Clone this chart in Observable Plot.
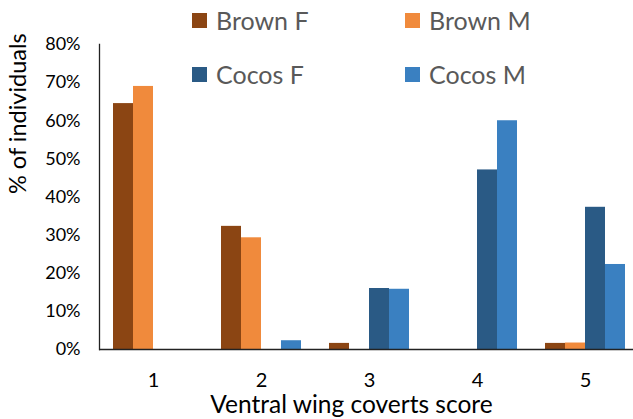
<!DOCTYPE html>
<html>
<head>
<meta charset="utf-8">
<script src="https://cdn.jsdelivr.net/npm/d3@7"></script>
<script src="https://cdn.jsdelivr.net/npm/@observablehq/plot@0.6"></script>
<style>
  html, body { margin: 0; padding: 0; background: white; }
  #wrap { position: relative; width: 633px; height: 419px; overflow: hidden; }
  #legend { position: absolute; left: 192px; top: -7px; }
  .lg-swatches { display: grid !important; grid-template-columns: 213px 150px; grid-auto-rows: 54px; align-items: center; font-family: Lato, sans-serif !important; font-size: 25px !important; color: #595959 !important; margin: 0 !important; min-height: 0 !important; }
  .lg-swatch { margin: 0 !important; display: flex !important; align-items: center; white-space: nowrap; }
  .lg-swatch > svg { margin-right: 9px !important; }
</style>
</head>
<body>
<div id="wrap"><div id="chart"></div><div id="legend"></div></div>
<script>
const scores = ["1", "2", "3", "4", "5"];
const series = ["Brown F", "Brown M", "Cocos F", "Cocos M"];
const brownF = [64.5, 32.3, 1.6, 0, 1.6];
const brownM = [69.0, 29.3, 0, 0, 1.7];
const cocosF = [0, 0, 16.0, 47.1, 37.3];
const cocosM = [0, 2.3, 15.8, 60.0, 22.3];
const colors = ["#8B4513", "#F08A3C", "#2A5A85", "#3A80C1"];
const yTicks = [0, 10, 20, 30, 40, 50, 60, 70, 80];
const xTitle = "Ventral wing coverts score";
const yTitle = "% of individuals";

const values = [brownF, brownM, cocosF, cocosM];
const rows = series.flatMap((s, i) => scores.map((c, j) => ({series: s, score: c, value: values[i][j]})));

const bandW = 20;
const barMarks = series.map((s, i) =>
  Plot.barY(rows.filter(d => d.series === s), {
    x: "score", y: "value", fill: colors[i],
    insetLeft: i * bandW, insetRight: (series.length - 1 - i) * bandW
  })
);

const chart = Plot.plot({
  width: 633,
  height: 419,
  marginLeft: 99,
  marginRight: -6,
  marginTop: 44,
  marginBottom: 70,
  style: {fontFamily: "Lato, sans-serif", color: "black", background: "white"},
  x: {domain: scores, paddingInner: 0.26, paddingOuter: 0.13, label: null},
  y: {domain: [0, 80], label: null},
  marks: [
    ...barMarks,
    Plot.axisY({ticks: yTicks, tickFormat: d => d + "%", tickSize: 0, tickPadding: 19, fontSize: 18, label: null, fill: "black"}),
    Plot.axisX({tickSize: 0, tickPadding: 23, fontSize: 20, label: null, fill: "black"}),
    Plot.ruleY([0], {stroke: "#222", strokeWidth: 1.3}),
    Plot.frame({anchor: "left", stroke: "#222", strokeWidth: 1.3}),
    Plot.text([xTitle], {frameAnchor: "bottom", dx: -18, dy: 56, lineAnchor: "middle", fontSize: 24.5, fill: "black"}),
    Plot.text([yTitle], {frameAnchor: "left", rotate: -90, dx: -81, dy: -3, fontSize: 23.5, fill: "black"})
  ]
});
document.getElementById("chart").appendChild(chart);

const legend = Plot.legend({
  color: {domain: series, range: colors},
  legend: "swatches",
  swatchSize: 15,
  className: "lg"
});
document.getElementById("legend").appendChild(legend);
</script>
</body>
</html>
